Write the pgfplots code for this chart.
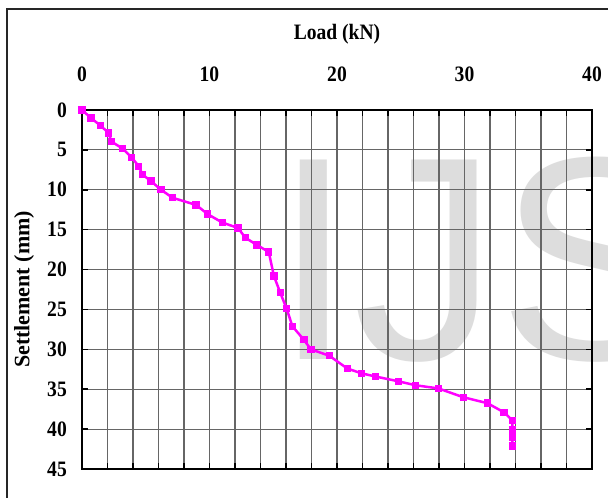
\documentclass[border=0pt]{standalone}
\usepackage{fontspec}
\setmainfont{Liberation Serif}
\newfontfamily\condfont{Liberation Serif}[FakeStretch=0.89]
\newfontfamily\wmfont{Liberation Sans}
\usepackage{pgfplots}
\pgfplotsset{compat=1.18}
\definecolor{mag}{RGB}{255,0,255}
\definecolor{wm}{RGB}{221,221,221}
\pgfplotstableread{
x y
0 0
0.7 1.0
1.45 1.95
2.1 2.9
2.3 3.95
3.2 4.85
3.9 5.95
4.45 7.05
4.75 8.1
5.4 8.9
6.2 10.0
7.1 11.0
8.95 11.9
9.85 13.05
11.0 14.1
12.25 14.8
12.8 16.0
13.7 16.9
14.65 17.8
15.05 20.8
15.55 22.9
16.05 24.9
16.5 27.1
17.4 28.8
17.95 30.0
19.4 30.8
20.8 32.4
21.9 33.0
23.0 33.4
24.8 34.0
26.15 34.5
27.95 34.9
29.9 36.0
31.8 36.75
33.1 37.9
33.75 38.9
33.75 40.1
33.75 41.0
33.75 42.1
}\loaddata
\begin{document}
\begin{tikzpicture}[x=1pt,y=1pt]
\useasboundingbox (0,0) rectangle (608,498);
\clip (0,0) rectangle (608,498);
\fill[white] (0,0) rectangle (608,498);
\draw[line width=1.5, black!85] (7,-20) rectangle (640,489);
\node[anchor=base west, inner sep=0, text=wm, scale=10, font=\wmfont\fontsize{29}{30}\selectfont] at (271,138) {IJS};
\begin{axis}[
  at={(82pt,29pt)}, anchor=south west,
  scale only axis, width=510pt, height=359pt,
  xmin=0, xmax=40, ymin=0, ymax=45,
  y dir=reverse,
  xticklabel pos=upper,
  xtick={0,10,20,30,40},
  minor xtick={0,2,...,40},
  ytick={0,5,...,45},
  grid=both,
  major grid style={draw=black!60, line width=1.1pt},
  minor grid style={draw=black!60, line width=1.1pt},
  tick align=inside,
  major tick length=6pt, minor tick length=6pt,
  tick style={black, line width=1.5pt},
  axis line style={black, line width=2pt},
  /pgf/number format/assume math mode=true,
  ticklabel style={font=\condfont\bfseries\fontsize{22}{24}\selectfont, inner sep=0pt},
  xticklabel style={anchor=south, yshift=28pt},
  yticklabel style={anchor=east, xshift=-15pt},
  xlabel={Load (kN)},
  ylabel={Settlement (mm)},
  xlabel style={font=\condfont\bfseries\fontsize{22}{24}\selectfont, at={(axis description cs:0.5,1)}, anchor=center, yshift=76pt, inner sep=0pt},
  ylabel style={font=\bfseries\fontsize{22}{24}\selectfont, at={(axis description cs:-0.1137,0.5)}, anchor=center, inner sep=0pt},
]
\addplot[mag, line width=2.5pt, mark=square*, mark size=3.2pt, mark options={fill=mag, draw=mag, line width=0pt}] table[x=x, y=y] {\loaddata};
\end{axis}
\end{tikzpicture}
\end{document}
